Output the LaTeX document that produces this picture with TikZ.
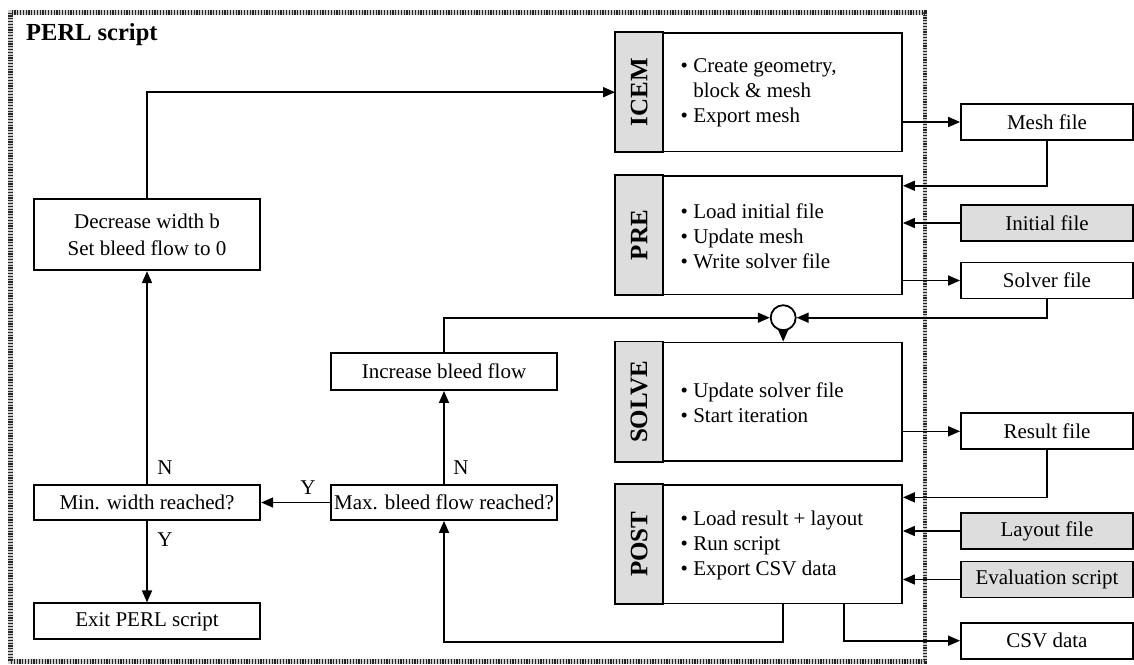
\documentclass[tikz,border=0pt]{standalone}
\usepackage{fontspec}
\setmainfont{Liberation Serif}
\usetikzlibrary{arrows.meta,calc}
\definecolor{boxgray}{RGB}{221,221,221}
\begin{document}
\begin{tikzpicture}[x=1pt,y=-1pt,
  every node/.style={font=\fontsize{21pt}{25pt}\selectfont},
  box/.style={draw,line width=1.8pt,inner sep=0pt,align=center},
  filebox/.style={box,minimum width=172pt,minimum height=36pt},
  leftbox/.style={box,minimum width=226.5pt,minimum height=36pt},
  modbox/.style={draw,line width=1.8pt,minimum width=286pt,minimum height=118.5pt,inner sep=0pt},
  strip/.style={draw,line width=1.8pt,fill=boxgray},
  modlabel/.style={rotate=90,font=\fontsize{25pt}{28pt}\selectfont\bfseries},
  modtext/.style={anchor=west,align=left,inner sep=0pt},
  arr/.style={line width=1.6pt,-{Triangle[length=12pt,width=10pt]}},
  hatchbase/.style={line width=4.5pt,black!20},
  hatch/.style={line width=4.5pt,dash pattern=on 1.2pt off 1.6pt,black!85},
  lbl/.style={inner sep=0pt}
]
\useasboundingbox (0,0) rectangle (1134,664);
% outer hatched frame
\draw[hatchbase] (10.5,12.5) rectangle (925,661.5);
\draw[hatch] (10.5,12.5) rectangle (925,661.5);
\node[anchor=base west,inner sep=0pt,font=\fontsize{24.5pt}{28pt}\selectfont\bfseries] (title) at (26,40) {PERL script};

% modules
\node[modbox] (icem) at (759,92.2) {};
\node[modbox] (pre) at (759,235.2) {};
\node[modbox] (solve) at (759,401.7) {};
\node[modbox] (post) at (759,544.2) {};
\foreach \m/\t in {icem/ICEM,pre/PRE,solve/SOLVE,post/POST}{
  \draw[strip] (\m.north west) rectangle ($(\m.south west)+(48,0)$);
  \node[modlabel] (\m-lab) at ($(\m.west)+(24,0)$) {\t};
}
\newcommand{\bul}{\textbullet\ }
\newcommand{\ind}{\phantom{\textbullet}\ }
\node[modtext] (icem-t) at (680.5,93.2) {\bul Create geometry,\\\ind block \& mesh\\\bul Export mesh};
\node[modtext] (pre-t) at (680.5,236.7) {\bul Load initial file\\\bul Update mesh\\\bul Write solver file};
\node[modtext] (solve-t) at (680.5,403) {\bul Update solver file\\\bul Start iteration};
\node[modtext] (post-t) at (680.5,545) {\bul Load result + layout\\\bul Run script\\\bul Export CSV data};

% junction circle
\node[draw,circle,line width=1.8pt,minimum size=25pt,inner sep=0pt] (circ) at (783.2,317.7) {};

% file boxes
\node[filebox] (mesh) at (1047,122) {Mesh file};
\node[filebox,fill=boxgray] (init) at (1047,223) {Initial file};
\node[filebox] (solver) at (1047,280.5) {Solver file};
\node[filebox] (result) at (1047,431.3) {Result file};
\node[filebox,fill=boxgray] (layout) at (1047,531) {Layout file};
\node[filebox,fill=boxgray] (eval) at (1047,579.5) {Evaluation script};
\node[filebox] (csv) at (1047,640.7) {CSV data};

% left flow boxes
\node[leftbox,minimum height=71pt] (dec) at (147,234.7) {Decrease width b\\[1.5pt]Set bleed flow to 0};
\node[leftbox,minimum height=36.7pt] (inc) at (444,371.7) {Increase bleed flow};
\node[leftbox,minimum height=35pt] (minw) at (147,502.5) {Min. width reached?};
\node[leftbox,minimum height=35pt] (maxb) at (444,502.5) {Max. bleed flow reached?};
\node[leftbox,minimum height=36pt] (exit) at (147,621.3) {Exit PERL script};

% labels
\node[lbl] (n1) at (165,467.3) {N};
\node[lbl] (n2) at (461,467.3) {N};
\node[lbl] (y1) at (308,487.3) {Y};
\node[lbl] (y2) at (165,539.3) {Y};

% connectors: modules to files
\draw[arr] (icem.east |- mesh.west) -- (mesh.west);
\draw[arr] (mesh.south) |- ($(pre.north east)+(0,10.7)$);
\draw[arr] (init.west) -- (init.west -| pre.east);
\draw[arr] (pre.east |- solver.west) -- (solver.west);
\draw[arr] (solver.south) |- (circ.east);
\draw[arr] (circ.south) -- (solve.north -| circ.south);
\draw[arr] (solve.east |- result.west) -- (result.west);
\draw[arr] (result.south) |- ($(post.north east)+(0,13.3)$);
\draw[arr] (layout.west) -- (layout.west -| post.east);
\draw[arr] (eval.west) -- (eval.west -| post.east);
\draw[arr] ([xshift=84.9pt]post.south) |- (csv.west);
\draw[arr] ([xshift=24.2pt]post.south) -- ++(0,37.4) -| (maxb.south);

% left flow
\draw[arr] (maxb.north) -- (inc.south);
\draw[arr] (inc.north) |- (circ.west);
\draw[arr] (maxb.west) -- (minw.east);
\draw[arr] (minw.north) -- (dec.south);
\draw[arr] (minw.south) -- (exit.north);
\draw[arr] (dec.north) |- (icem.west);
\end{tikzpicture}
\end{document}
